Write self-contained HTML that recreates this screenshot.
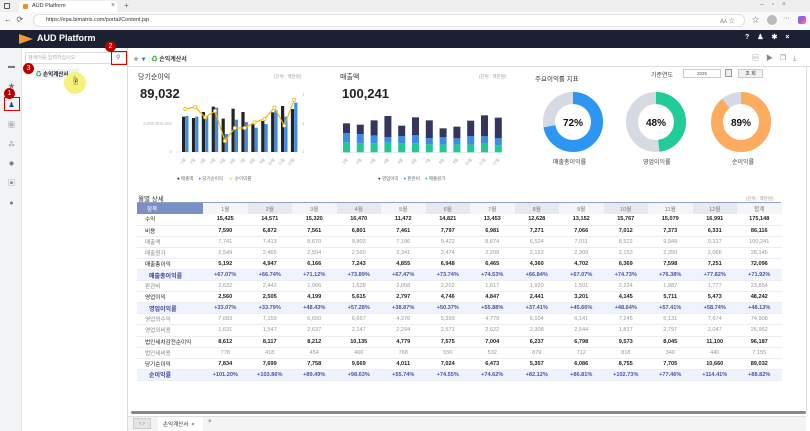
<!DOCTYPE html>
<html><head><meta charset="utf-8"><style>
*{box-sizing:border-box;margin:0;padding:0}
body{width:810px;height:431px;overflow:hidden;background:#fff;font-family:"Liberation Sans","Noto Sans CJK KR",sans-serif;position:relative;color:#333}
.a{position:absolute}
.k{font-size:6px;color:#666;white-space:nowrap}
table{border-collapse:collapse;table-layout:fixed}
td{height:11.1px;font-size:5.6px;text-align:center;border-bottom:1px solid #eceef2;white-space:nowrap;color:#999;padding:0}
tr.b td{color:#222;font-weight:bold}
tr.h td{background:#eef3fd;color:#4a55a8;font-weight:bold}
td.l{text-align:left;padding-left:8px;color:#888;font-weight:normal!important}
tr.h td.l{color:#3a46a0;font-weight:bold!important;padding-left:12px;font-size:6px}
tr.hd td{height:11px;color:#777;font-weight:normal;border-bottom:none}
</style></head><body>
<div class="a" style="left:0;top:0;width:810px;height:12px;background:#efefef"></div>
<div class="a" style="left:19px;top:1px;width:98px;height:11px;background:#fff;border-radius:3px 3px 0 0"></div>
<div class="a" style="left:23px;top:4px;width:5px;height:5px;background:#f28c28;border-radius:1px"></div>
<div class="a k" style="left:32px;top:3px;font-size:5.5px;color:#333">AUD Platform</div>
<div class="a k" style="left:111px;top:2px;font-size:7px">×</div>
<div class="a k" style="left:124px;top:1px;font-size:8px">+</div>
<div class="a" style="left:4px;top:3px;width:6px;height:6px;border:1px solid #555;border-radius:1px"></div>
<div class="a k" style="left:760px;top:1px;font-size:7px;color:#888">–&nbsp;&nbsp;&nbsp;&nbsp;▫&nbsp;&nbsp;&nbsp;&nbsp;×</div>
<div class="a" style="left:0;top:12px;width:810px;height:18px;background:#f9f9f9"></div>
<div class="a k" style="left:4px;top:15px;font-size:8px;color:#555">←&nbsp;&nbsp;⟳</div>
<div class="a" style="left:33px;top:14px;width:712px;height:13px;background:#fff;border:1px solid #e0e0e0;border-radius:7px"></div>
<div class="a k" style="left:46px;top:17px;font-size:5.5px;color:#333">https://epa.bimatrix.com/portal/Content.jsp</div>
<div class="a k" style="left:720px;top:16px;font-size:6px;color:#777">Aʌ ☆</div>
<div class="a k" style="left:752px;top:15px;font-size:7px;color:#666">☆</div>
<div class="a" style="left:767px;top:15px;width:10px;height:10px;border-radius:50%;background:#bbb"></div>
<div class="a k" style="left:783px;top:15px;font-size:7px;color:#555">···</div>
<div class="a" style="left:798px;top:16px;width:8px;height:8px;border-radius:2px;background:linear-gradient(135deg,#3b8cf0,#c64ad8,#f5a623)"></div>
<div class="a" style="left:0;top:30px;width:810px;height:18px;background:#1c2033"></div>
<div class="a" style="left:19px;top:34px;width:0;height:0;border-left:14px solid #f29a2e;border-top:5px solid transparent;border-bottom:5px solid transparent"></div>
<div class="a" style="left:37px;top:33px;font-size:9px;font-weight:bold;color:#fff">AUD Platform</div>
<div class="a" style="left:745px;top:33px;font-size:7px;font-weight:bold;color:#fff;letter-spacing:8px">?♟✱×</div>
<div class="a" style="left:0;top:48px;width:22px;height:383px;background:#f2f3f5;border-right:1px solid #e2e2e2"></div>
<div class="a k" style="left:7px;top:57px;font-size:7px;color:#777;line-height:19.5px;text-align:center;width:9px">▬<br>★<br><span style="color:#2c3e91">♟</span><br>▦<br>⁂<br>✹<br>▣<br>●</div>
<div class="a" style="left:4px;top:97px;width:16px;height:14px;border:1px solid #d00"></div>
<div class="a" style="left:4px;top:88px;width:11px;height:11px;border-radius:50%;background:#b00;color:#fff;font-size:7px;text-align:center;line-height:11px">1</div>
<div class="a" style="left:22px;top:48px;width:106px;height:383px;background:#fff;border-right:1px solid #ddd"></div>
<div class="a" style="left:25px;top:52px;width:102px;height:12px;border:1px solid #ddd"></div>
<div class="a k" style="left:28px;top:54px;font-size:5px;color:#aaa">검색어를 입력하십시오.</div>
<div class="a" style="left:111px;top:51px;width:16px;height:14px;border:1px solid #d00"></div>
<div class="a k" style="left:116px;top:54px;font-size:6px">⚲</div>
<div class="a" style="left:105px;top:41px;width:11px;height:11px;border-radius:50%;background:#b00;color:#fff;font-size:7px;text-align:center;line-height:11px">2</div>
<div class="a" style="left:23px;top:63px;width:11px;height:11px;border-radius:50%;background:#b00;color:#fff;font-size:7px;text-align:center;line-height:11px">3</div>
<div class="a" style="left:35px;top:69px;width:44px;height:9px;background:#eef2fb"></div>
<div class="a k" style="left:36px;top:70px;font-size:5.5px;color:#222;font-weight:bold"><span style="color:#3a3">♻</span> 손익계산서</div>
<div class="a" style="left:64px;top:72px;width:22px;height:22px;border-radius:50%;background:#f6f27a"></div>
<div class="a k" style="left:71px;top:74px;font-size:9px;color:#333">☝</div>
<div class="a" style="left:128px;top:48px;width:682px;height:19px;background:#fff;border-bottom:1px solid #ddd"></div>
<div class="a k" style="left:133px;top:54px;font-size:6px;color:#999">★ <span style="color:#2a5bd7">▼</span> <span style="color:#ccc">|</span> <span style="color:#3a3">♻</span> <b style="color:#333">손익계산서</b></div>
<div class="a k" style="left:752px;top:53px;font-size:7px;color:#888;letter-spacing:7px">▤▶❐⤓</div>
<div class="a" style="left:806px;top:67px;width:1px;height:345px;background:#ddd"></div>
<div class="a" style="left:138px;top:72px;font-size:7px;color:#333">당기순이익</div>
<div class="a k" style="left:274px;top:74px;font-size:4.5px;color:#999">(단위 : 백만원)</div>
<div class="a" style="left:140px;top:86px;font-size:13px;font-weight:bold;color:#222">89,032</div>
<svg class="a" style="left:130px;top:90px" width="180" height="100">
<g font-size="4.5" fill="#bbb" font-family="Liberation Sans"><text x="42" y="35" text-anchor="end">6,000,000,000</text><text x="42" y="63" text-anchor="end">0</text><text x="172" y="6">1</text><text x="172" y="35">1</text><text x="172" y="63">1</text></g>
<line x1="46" y1="62" x2="166" y2="62" stroke="#ddd" stroke-width=".6"/>
<g id="c1"></g>
</svg>
<div class="a" style="left:340px;top:72px;font-size:7px;color:#333">매출액</div>
<div class="a k" style="left:479px;top:74px;font-size:4.5px;color:#999">(단위 : 백만원)</div>
<div class="a" style="left:342px;top:86px;font-size:13px;font-weight:bold;color:#222">100,241</div>
<svg class="a" style="left:330px;top:90px" width="180" height="100"><g id="c2"></g></svg>
<div class="a k" style="left:177px;top:176px;font-size:4.5px"><span style="color:#222">●</span> 매출액 &nbsp;&nbsp;&nbsp;<span style="color:#3b8de8">●</span> 당기순이익 &nbsp;&nbsp;&nbsp;<span style="color:#f2b705">-o-</span> 순이익률</div>
<div class="a k" style="left:378px;top:176px;font-size:4.5px"><span style="color:#33375e">●</span> 영업이익 &nbsp;&nbsp;&nbsp;<span style="color:#3b8de8">●</span> 판관비 &nbsp;&nbsp;&nbsp;<span style="color:#22c994">●</span> 매출원가</div>
<div class="a" style="left:535px;top:73px;font-size:6.5px;color:#333">주요이익률 지표</div>
<div class="a k" style="left:651px;top:70px;font-size:6px;color:#444">기준연도</div>
<div class="a" style="left:683px;top:69px;width:38px;height:9px;border:1px solid #ccc;font-size:4.5px;text-align:center;line-height:8px;color:#555">2025</div>
<div class="a" style="left:725px;top:69px;width:7px;height:8px;border:1px solid #999;background:#eee"></div>
<div class="a" style="left:738px;top:69px;width:25px;height:9px;border:1px solid #ccc;background:#f2f2f2;font-size:5px;text-align:center;line-height:8px;color:#333">조 회</div>
<svg class="a" style="left:540px;top:88px" width="240" height="70">
<g fill="none" stroke-width="12">
<circle cx="33" cy="34" r="24" stroke="#d6dbe3"/><circle cx="33" cy="34" r="24" stroke="#2d96f3" stroke-dasharray="108.6 150.8" transform="rotate(-90 33 34)"/>
<circle cx="116" cy="34" r="24" stroke="#d6dbe3"/><circle cx="116" cy="34" r="24" stroke="#22cc99" stroke-dasharray="72.4 150.8" transform="rotate(-90 116 34)"/>
<circle cx="201" cy="34" r="24" stroke="#d6dbe3"/><circle cx="201" cy="34" r="24" stroke="#fdab5e" stroke-dasharray="134.2 150.8" transform="rotate(-90 201 34)"/>
</g>
<g font-size="10" font-weight="bold" fill="#111" text-anchor="middle" font-family="Liberation Sans"><text x="33" y="38">72%</text><text x="116" y="38">48%</text><text x="201" y="38">89%</text></g>
</svg>
<div class="a k" style="left:553px;top:157px;font-size:6px;color:#444">매출총이익률</div>
<div class="a k" style="left:643px;top:157px;font-size:6px;color:#444">영업이익률</div>
<div class="a k" style="left:732px;top:157px;font-size:6px;color:#444">순이익률</div>
<div class="a" style="left:138px;top:193px;font-size:6.5px;color:#333">월별 상세</div>
<div class="a k" style="left:746px;top:196px;font-size:4.5px;color:#999">(단위 : 백만원)</div>
<div class="a" style="left:137px;top:202px;width:644px;height:1px;background:#8ea2cc"></div>
<table class="a" style="left:137px;top:203px;width:644px" id="t"></table>
<div class="a" style="left:131px;top:411px;width:675px;height:3px;background:#888;border-radius:2px"></div>
<div class="a" style="left:128px;top:416px;width:678px;height:15px;background:#f4f4f4;border-top:1px solid #ddd"></div>
<div class="a" style="left:133px;top:418px;width:18px;height:11px;background:#e4e4e4;border:1px solid #ccc;font-size:6px;color:#888;text-align:center;line-height:10px">‹ ›</div>
<div class="a" style="left:158px;top:417px;width:45px;height:14px;background:#fff"></div>
<div class="a k" style="left:163px;top:420px;font-size:5.5px;color:#333">손익계산서 &nbsp;×</div>
<div class="a k" style="left:208px;top:419px;font-size:6px;color:#555">×</div>
<script>
var ns="http://www.w3.org/2000/svg";
function el(p,t,a){var e=document.createElementNS(ns,t);for(var k in a)e.setAttribute(k,a[k]);p.appendChild(e);return e;}
var g1=document.getElementById("c1");
var bk=[170,174,156,140,176,146,156,193,183,157,138,147],bl=[168,170,170,143,222,179,186,203,192,151,170,128],ln=[147,141,172,153,243,204,204,187,177,143,197,119];
var pts=[],i,x,t;
for(i=0;i<12;i++){x=52+i*9.9;var yb=bk[i]/3-30,yl=bl[i]/3-30,yy=ln[i]/3-30;
el(g1,"rect",{x:x,y:yb,width:3.2,height:62-yb,fill:"#222"});
el(g1,"rect",{x:x+3.3,y:yl,width:3.2,height:62-yl,fill:"#3b8de8"});
pts.push((x+3.3)+","+yy);
t=el(g1,"text",{x:x+4,y:70,"font-size":4,fill:"#aaa","text-anchor":"end",transform:"rotate(-45 "+(x+4)+" 70)"});t.textContent=(i+1)+"월";}
el(g1,"polyline",{points:pts.join(" "),fill:"none",stroke:"#f2b705","stroke-width":1.2});
pts.forEach(function(p){var q=p.split(",");el(g1,"circle",{cx:q[0],cy:q[1],r:1.6,fill:"#fff",stroke:"#f2b705","stroke-width":0.8});});
var g2=document.getElementById("c2");
var d=[190,194,181,168,197,172,181,205,200,182,166,173],b=[219,222,227,231,228,226,235,232,235,228,229,235],gr=[247,250,250,248,251,250,253,254,254,254,251,256];
function Y(v){return v/3-30;}
el(g2,"line",{x1:10,y1:62.3,x2:172,y2:62.3,stroke:"#ddd","stroke-width":0.6});
for(i=0;i<12;i++){x=13+i*13.8;
el(g2,"rect",{x:x,y:Y(d[i]),width:7,height:Y(b[i])-Y(d[i]),fill:"#33375e"});
el(g2,"rect",{x:x,y:Y(b[i]),width:7,height:Y(gr[i])-Y(b[i]),fill:"#3b8de8"});
el(g2,"rect",{x:x,y:Y(gr[i]),width:7,height:62.3-Y(gr[i]),fill:"#22c994"});
t=el(g2,"text",{x:x+5,y:70,"font-size":4,fill:"#aaa","text-anchor":"end",transform:"rotate(-45 "+(x+5)+" 70)"});t.textContent=(i+1)+"월";}
var rows=[
["수익","b","15,425 14,571 15,320 16,470 11,472 14,821 13,453 12,628 13,152 15,767 15,079 16,991 175,148"],
["비용","b","7,590 6,872 7,561 6,801 7,461 7,797 6,981 7,271 7,066 7,012 7,373 6,331 86,116"],
["매출액","","7,741 7,413 8,670 9,803 7,196 9,422 8,674 6,524 7,011 8,522 9,948 9,317 100,241"],
["매출원가","","2,549 2,465 2,504 2,560 2,341 2,474 2,209 2,163 2,309 2,153 2,350 2,066 28,145"],
["매출총이익","b","5,192 4,947 6,166 7,243 4,855 6,948 6,465 4,360 4,702 6,369 7,598 7,251 72,096"],
["매출총이익률","h","+67.07% +66.74% +71.12% +73.89% +67.47% +73.74% +74.53% +66.84% +67.07% +74.73% +76.38% +77.82% +71.92%"],
["판관비","","2,632 2,442 1,966 1,628 2,058 2,202 1,617 1,920 1,501 2,224 1,887 1,777 23,854"],
["영업이익","b","2,560 2,505 4,199 5,615 2,797 4,746 4,847 2,441 3,201 4,145 5,711 5,473 48,242"],
["영업이익률","h","+33.07% +33.79% +48.43% +57.28% +38.87% +50.37% +55.88% +37.41% +45.66% +48.64% +57.41% +58.74% +48.13%"],
["영업외수익","","7,683 7,159 6,650 6,667 4,276 5,399 4,779 6,104 6,141 7,245 5,131 7,674 74,908"],
["영업외비용","","1,631 1,547 2,637 2,147 2,294 2,571 2,622 2,308 2,544 1,817 2,797 2,047 26,962"],
["법인세차감전순이익","b","8,612 8,117 8,212 10,135 4,779 7,575 7,004 6,237 6,798 9,573 8,045 11,100 96,187"],
["법인세비용","","778 418 454 466 768 550 532 879 712 818 340 440 7,155"],
["당기순이익","b","7,834 7,699 7,758 9,669 4,011 7,024 6,473 5,357 6,086 8,755 7,705 10,660 89,032"],
["순이익률","h","+101.20% +103.86% +89.49% +98.63% +55.74% +74.55% +74.62% +82.12% +86.81% +102.73% +77.46% +114.41% +88.82%"]];
var h='<colgroup><col style="width:66px">';for(i=0;i<13;i++)h+='<col style="width:44.5px">';h+='</colgroup><tr class="hd"><td style="background:#7b90c4;color:#fff;text-align:left;padding-left:10px">항목</td>';
for(i=1;i<=13;i++)h+='<td style="background:'+(i%2?'#f3f5f8':'#e6e9ee')+'">'+(i<13?i+'월':'합계')+'</td>';
h+='</tr>';
rows.forEach(function(r){h+='<tr class="'+r[1]+'"><td class="l">'+r[0]+'</td>';r[2].split(" ").forEach(function(v){h+='<td>'+v+'</td>';});h+='</tr>';});
document.getElementById("t").innerHTML=h;
</script>
</body></html>
